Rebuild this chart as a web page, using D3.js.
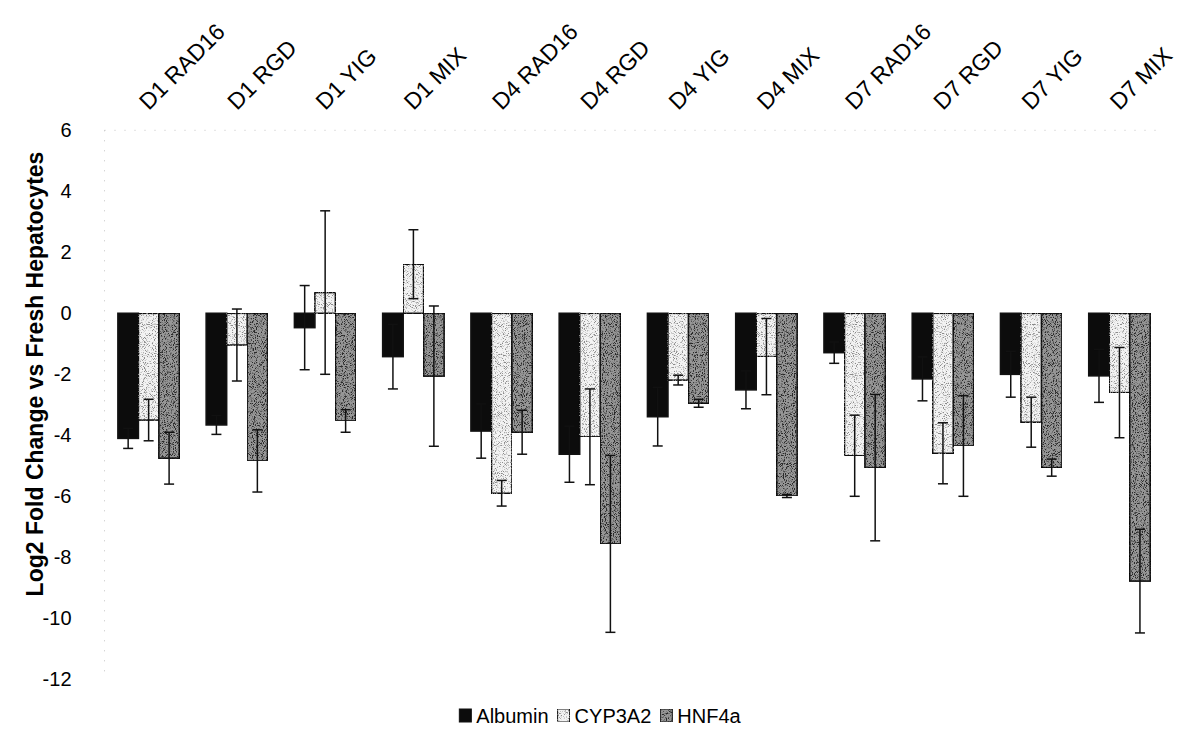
<!DOCTYPE html>
<html>
<head>
<meta charset="utf-8">
<script src="https://cdn.jsdelivr.net/npm/d3@7"></script>
<style>
  body { margin: 0; background: #fff; }
  svg { display: block; font-family: "Liberation Sans", Arial, sans-serif; }
</style>
</head>
<body>
<div id="chart"></div>
<script>
// data
var categories = ["D1 RAD16", "D1 RGD", "D1 YIG", "D1 MIX", "D4 RAD16", "D4 RGD",
                  "D4 YIG", "D4 MIX", "D7 RAD16", "D7 RGD", "D7 YIG", "D7 MIX"];
var seriesNames = ["Albumin", "CYP3A2", "HNF4a"];

var albumin    = [-4.10, -3.66, -0.47, -1.42, -3.86, -4.62, -3.39, -2.51, -1.29, -2.15, -2.00, -2.05];
var albuminErr = [ 0.33,  0.31,  1.38,  1.06,  0.89,  0.92,  0.96,  0.62,  0.35,  0.72,  0.75,  0.87];
var cyp3a2     = [-3.50, -1.04,  0.68,  1.61, -5.90, -4.05, -2.19, -1.42, -4.67, -4.59, -3.57, -2.60];
var cyp3a2Err  = [ 0.68,  1.18,  2.68,  1.13,  0.42,  1.57,  0.16,  1.25,  1.33,  1.00,  0.82,  1.48];
var hnf4a      = [-4.75, -4.84, -3.53, -2.06, -3.90, -7.56, -2.95, -5.99, -5.06, -4.35, -5.06, -8.78];
var hnf4aErr   = [ 0.85,  1.02,  0.37,  2.30,  0.72,  2.90,  0.13,  0.05,  2.40,  1.65,  0.28,  1.70];

var yTicks = [6, 4, 2, 0, -2, -4, -6, -8, -10, -12];

// build rows for drawing
var values = {Albumin: albumin, CYP3A2: cyp3a2, HNF4a: hnf4a};
var errors = {Albumin: albuminErr, CYP3A2: cyp3a2Err, HNF4a: hnf4aErr};
var rows = [];
categories.forEach(function(c, i) {
    seriesNames.forEach(function(s) {
        rows.push({cat: c, key: s, value: values[s][i], err: errors[s][i]});
    });
});

var width = 1202, height = 749;

var svg = d3.select("#chart").append("svg")
    .attr("width", width)
    .attr("height", height);

svg.append("rect").attr("width", width).attr("height", height).attr("fill", "#fff");

// speckle filters to mimic the scanned stipple fills
var defs = svg.append("defs");
function stipple(id, dotColor, k, c, seed) {
    var f = defs.append("filter").attr("id", id)
        .attr("x", 0).attr("y", 0).attr("width", 1).attr("height", 1);
    f.append("feTurbulence")
        .attr("type", "fractalNoise").attr("baseFrequency", 1.1)
        .attr("numOctaves", 1).attr("seed", seed).attr("result", "noise");
    f.append("feColorMatrix")
        .attr("in", "noise").attr("type", "matrix")
        .attr("values", "0 0 0 0 0  0 0 0 0 0  0 0 0 0 0  " + k + " 0 0 0 " + c)
        .attr("result", "mask");
    f.append("feFlood").attr("flood-color", dotColor).attr("result", "col");
    f.append("feComposite").attr("in", "col").attr("in2", "mask").attr("operator", "in")
        .attr("result", "dots");
    f.append("feComposite")
        .attr("in", "dots").attr("in2", "SourceAlpha").attr("operator", "in")
        .attr("result", "dotsIn");
    var m = f.append("feMerge");
    m.append("feMergeNode").attr("in", "SourceGraphic");
    m.append("feMergeNode").attr("in", "dotsIn");
}
stipple("stipLight", "#8a8a8a", -6, 2.9, 7);
stipple("stipDark", "#2a2a2a", -6, 3.1, 3);
var filterOf = {Albumin: null, CYP3A2: "url(#stipLight)", HNF4a: "url(#stipDark)"};

var x0 = d3.scaleBand()
    .domain(categories)
    .range([104.5, 1163.6])
    .paddingInner(0.304)
    .paddingOuter(0.152);

var x1 = d3.scaleBand()
    .domain(seriesNames)
    .range([0, x0.bandwidth()]);

var y = d3.scaleLinear()
    .domain([-12, 6])
    .range([679.3, 130.3]);

var fill = d3.scaleOrdinal()
    .domain(seriesNames)
    .range(["#0c0c0c", "#f3f3f3", "#979797"]);

// faint dotted frame lines (top gridline + left axis)
svg.append("line")
    .attr("x1", x0.range()[0]).attr("x2", x0.range()[1])
    .attr("y1", y(6)).attr("y2", y(6))
    .attr("stroke", "#c4c4c4").attr("stroke-width", 1)
    .attr("stroke-dasharray", "1,9");

svg.append("line")
    .attr("x1", x0.range()[0]).attr("x2", x0.range()[0])
    .attr("y1", y(6)).attr("y2", y(-12))
    .attr("stroke", "#c4c4c4").attr("stroke-width", 1)
    .attr("stroke-dasharray", "1,9");

// y axis
var yAxis = svg.append("g")
    .attr("transform", "translate(" + x0.range()[0] + ",0)")
    .call(d3.axisLeft(y).tickValues(yTicks).tickSize(0).tickPadding(33)
        .tickFormat(function(d) { return String(d); }));
yAxis.select(".domain").remove();
yAxis.selectAll("text")
    .attr("font-size", 20)
    .attr("font-family", "Liberation Sans, Arial, sans-serif")
    .attr("fill", "#000");

svg.append("text")
    .attr("transform", "translate(43," + 374 + ") rotate(-90)")
    .attr("text-anchor", "middle")
    .attr("font-size", 23)
    .attr("font-weight", "bold")
    .text("Log2 Fold Change vs Fresh Hepatocytes");

// category labels on top, rotated
svg.selectAll(".catlabel")
    .data(categories)
    .enter().append("text")
    .attr("class", "catlabel")
    .attr("transform", function(d) {
        return "translate(" + (x0(d) + x0.bandwidth() / 2) + ",111) rotate(-45)";
    })
    .attr("font-size", 23)
    .text(function(d) { return d; });

// bars
var bars = svg.append("g");
bars.selectAll("rect")
    .data(rows)
    .enter().append("rect")
    .attr("x", function(d) { return x0(d.cat) + x1(d.key); })
    .attr("width", x1.bandwidth())
    .attr("y", function(d) { return y(Math.max(0, d.value)); })
    .attr("height", function(d) { return Math.abs(y(d.value) - y(0)); })
    .attr("fill", function(d) { return fill(d.key); })
    .attr("filter", function(d) { return filterOf[d.key]; })
    .attr("stroke", "#111")
    .attr("stroke-width", 1.6);

// error bars
var errG = svg.append("g").attr("stroke", "#111").attr("stroke-width", 1.5);
var eb = errG.selectAll("g")
    .data(rows)
    .enter().append("g")
    .attr("transform", function(d) {
        return "translate(" + (x0(d.cat) + x1(d.key) + x1.bandwidth() / 2) + ",0)";
    });
eb.append("line")
    .attr("y1", function(d) { return y(d.value + d.err); })
    .attr("y2", function(d) { return y(d.value - d.err); });
eb.append("line")
    .attr("x1", -5).attr("x2", 5)
    .attr("y1", function(d) { return y(d.value + d.err); })
    .attr("y2", function(d) { return y(d.value + d.err); });
eb.append("line")
    .attr("x1", -5).attr("x2", 5)
    .attr("y1", function(d) { return y(d.value - d.err); })
    .attr("y2", function(d) { return y(d.value - d.err); });

// legend, laid out from measured text widths and centred
var legend = svg.append("g");
var li = legend.selectAll("g")
    .data(seriesNames)
    .enter().append("g");
li.append("rect")
    .attr("y", -1)
    .attr("width", 12).attr("height", 13)
    .attr("fill", function(d) { return fill(d); })
    .attr("filter", function(d) { return filterOf[d]; })
    .attr("stroke", "#111").attr("stroke-width", 1);
li.append("text")
    .attr("x", 17).attr("y", 13)
    .attr("font-size", 20)
    .text(function(d) { return d; });

var pos = 0, offsets = [];
li.each(function() {
    offsets.push(pos);
    pos += 17 + d3.select(this).select("text").node().getComputedTextLength() + 9;
});
var startX = 600 - (pos - 9) / 2;
li.attr("transform", function(d, i) { return "translate(" + (startX + offsets[i]) + ",710)"; });
</script>
</body>
</html>
